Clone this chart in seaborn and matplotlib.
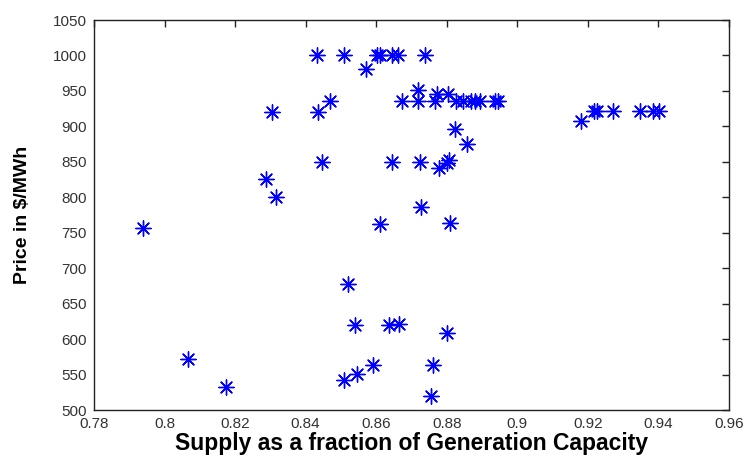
import warnings
warnings.filterwarnings("ignore")
import matplotlib
matplotlib.use("Agg")
import matplotlib.pyplot as plt
import seaborn as sns
import pandas as pd

supply_fraction = [
    0.7938, 0.8066, 0.8174, 0.8288, 0.8304, 0.8316, 0.8431, 0.8436, 0.8445, 0.8469,
    0.8510, 0.8510, 0.8521, 0.8540, 0.8545, 0.8571, 0.8590, 0.8601, 0.8611, 0.8611,
    0.8636, 0.8644, 0.8644, 0.8665, 0.8663, 0.8672, 0.8719, 0.8719, 0.8724, 0.8727,
    0.8738, 0.8755, 0.8760, 0.8771, 0.8768, 0.8779, 0.8801, 0.8804, 0.8800, 0.8807,
    0.8809, 0.8823, 0.8825, 0.8845, 0.8856, 0.8868, 0.8880, 0.8894, 0.8937, 0.8946,
    0.9180, 0.9217, 0.9227, 0.9270, 0.9348, 0.9385, 0.9402,
]
price = [
    757, 572, 532, 826, 920, 800, 1000, 920, 850, 936,
    1000, 543, 678, 620, 551, 981, 564, 1000, 1000, 763,
    620, 1000, 850, 621, 1000, 936, 952, 936, 850, 786,
    1000, 520, 564, 945, 936, 842, 609, 945, 849, 853,
    764, 896, 936, 936, 875, 936, 936, 936, 936, 936,
    908, 922, 922, 922, 922, 922, 922,
]
x_ticks = [0.78, 0.80, 0.82, 0.84, 0.86, 0.88, 0.90, 0.92, 0.94, 0.96]
x_tick_labels = ["0.78", "0.8", "0.82", "0.84", "0.86", "0.88", "0.9", "0.92", "0.94", "0.96"]
y_ticks = [500, 550, 600, 650, 700, 750, 800, 850, 900, 950, 1000, 1050]

df = pd.DataFrame({"supply": supply_fraction, "price": price})

sns.set_style("white")
plt.rcParams["font.family"] = ["Liberation Sans", "DejaVu Sans"]

fig = plt.figure(figsize=(7.49, 4.58), dpi=100)
ax = fig.add_axes([0.1255, 0.1048, 0.9733 - 0.1255, 0.9563 - 0.1048])

sns.scatterplot(data=df, x="supply", y="price", ax=ax, marker=(8, 2, 0),
                color="#0000ff", s=120, linewidth=1.0, legend=False)

ax.set_xlim(0.78, 0.96)
ax.set_ylim(500, 1050)
ax.set_xticks(x_ticks)
ax.set_xticklabels(x_tick_labels)
ax.set_yticks(y_ticks)
ax.tick_params(direction="in", length=5, width=1, top=True, right=True,
               labelsize=11, labelcolor="#333333", color="#222222", pad=5)
for sp in ax.spines.values():
    sp.set_visible(True)
    sp.set_color("#222222")
    sp.set_linewidth(1.0)

ax.set_xlabel("Supply as a fraction of Generation Capacity", fontsize=16.5,
              fontweight="bold", color="black")
ax.set_ylabel("Price in $/MWh", fontsize=14, fontweight="bold", color="black")
ax.xaxis.set_label_coords(0.5, -0.056)
ax.yaxis.set_label_coords(-0.113, 0.5)
ax.yaxis.label.set_verticalalignment("center")

fig.savefig("out.png", dpi=100)
